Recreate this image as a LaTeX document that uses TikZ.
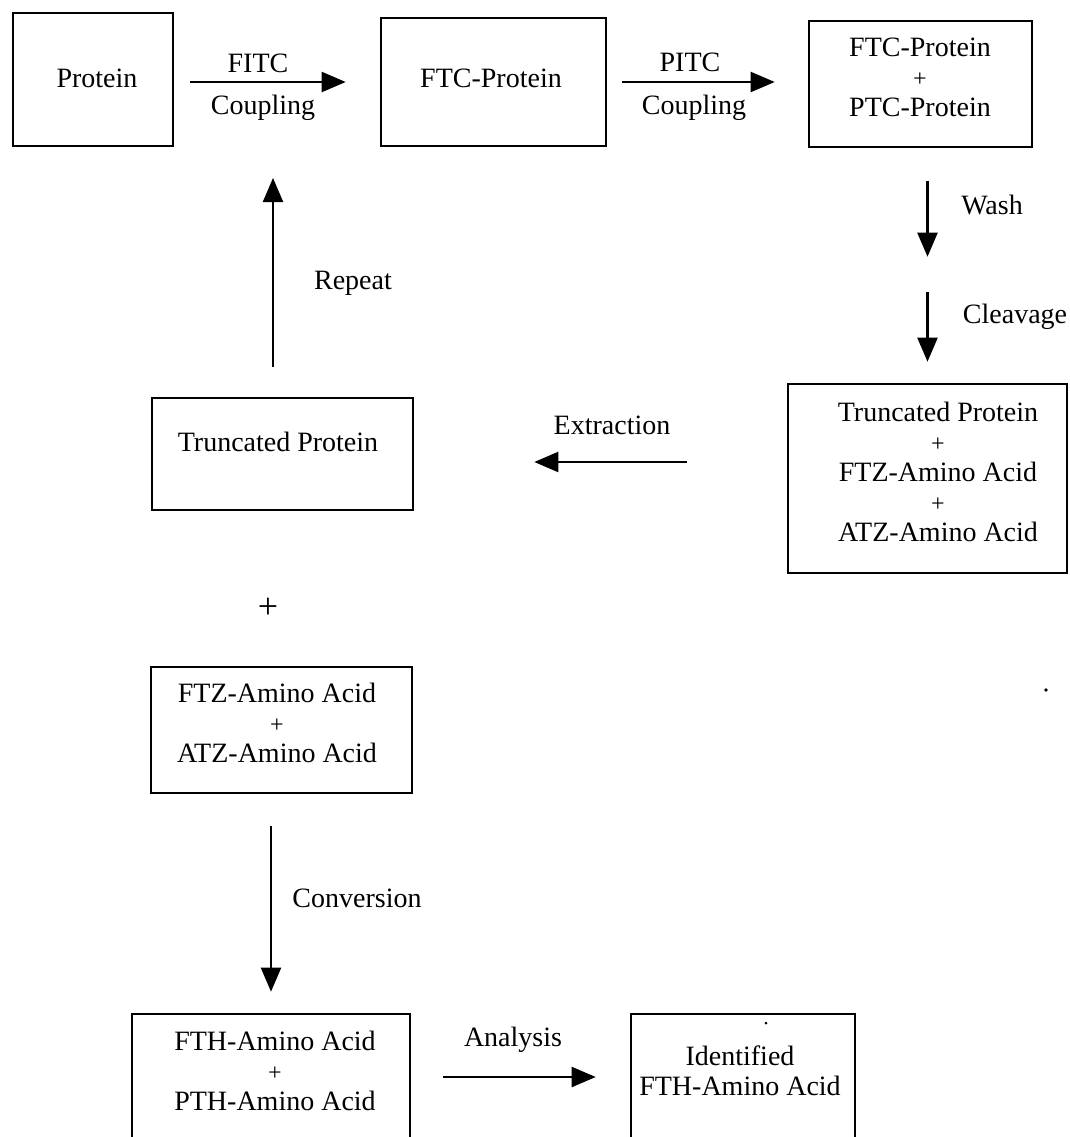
\documentclass[tikz,border=0pt]{standalone}
\usepackage{fontspec}
\setmainfont{Liberation Serif}
\usetikzlibrary{arrows.meta,fit}
\tikzset{
  stage/.style={draw, line width=2.6pt, inner sep=0pt, rectangle},
  txt/.style={font=\fontsize{28}{30}\selectfont, align=center, inner sep=0pt},
  flow/.style={line width=2.2pt, -{Triangle[length=24pt,width=20pt]}},
}
\newcommand{\smallplus}{{\fontsize{24}{30}\selectfont +}}
\begin{document}
\begin{tikzpicture}[x=1pt,y=-1pt]
\useasboundingbox (0,0) rectangle (1070,1137);
\clip (0,0) rectangle (1070,1137);

% stage boxes
\node[stage, fit={(13,13) (173,146)}] (protein) {};
\node[stage, fit={(381,18) (606,146)}] (ftc) {};
\node[stage, fit={(809,21) (1032,147)}] (ftcptc) {};
\node[stage, fit={(788,384) (1067,573)}] (mix) {};
\node[stage, fit={(152,398) (413,510)}] (trunc) {};
\node[stage, fit={(151,667) (412,793)}] (ftzatz) {};
\node[stage, fit={(132,1014) (410,1160)}] (fth) {};
\node[stage, fit={(631,1014) (855,1160)}] (ident) {};

% box contents
\node[txt] (proteinT) at (97,78) {Protein};
\node[txt] (ftcT) at (491,78) {FTC-Protein};
\node[txt] (ftcptcT) at (920,77) {FTC-Protein\\\smallplus\\PTC-Protein};
\node[txt] (mixT) at (938,472) {Truncated Protein\\\smallplus\\FTZ-Amino Acid\\\smallplus\\ATZ-Amino Acid};
\node[txt] (truncT) at (278,442) {Truncated Protein};
\node[txt] (ftzatzT) at (277,723) {FTZ-Amino Acid\\\smallplus\\ATZ-Amino Acid};
\node[txt] (fthT) at (275,1071) {FTH-Amino Acid\\\smallplus\\PTH-Amino Acid};
\node[txt] (identT) at (740,1071) {Identified\\FTH-Amino Acid};
\node[txt, font=\fontsize{36}{36}\selectfont] (plus) at (268,608) {+};

% reference points for free arrow ends and levels
\coordinate (repeatTip) at (273,178);
\coordinate (extrLevel) at (0,462);
\coordinate (anaLevel) at (0,1077);

% coupling steps
\draw[flow, shorten <=16pt, shorten >=34pt] (protein.east |- ftc.west) -- (ftc.west);
\draw[flow, shorten <=15pt, shorten >=33pt] (ftc.east) -- (ftc.east -| ftcptc.west);
\node[txt] (fitcL) at (258,63) {FITC};
\node[txt] (coup1L) at (263,108) {Coupling};
\node[txt] (pitcL) at (690,62) {PITC};
\node[txt] (coup2L) at (694,108) {Coupling};

% wash and cleavage
\draw[flow, shorten <=33pt, shorten >=126pt] (ftcptc.south -| mix.north) -- (mix.north);
\draw[flow, shorten <=144pt, shorten >=21pt] (ftcptc.south -| mix.north) -- (mix.north);
\node[txt] (washL) at (992,205) {Wash};
\node[txt] (cleavL) at (1015,317) {Cleavage};

% extraction
\draw[flow, shorten <=100pt, shorten >=120pt] (mix.west |- extrLevel) -- (trunc.east |- extrLevel);
\node[txt] (extrL) at (612,425) {Extraction};

% repeat cycle
\draw[flow, shorten <=30pt] (trunc.north -| repeatTip) -- (repeatTip);
\node[txt] (repeatL) at (353,283) {Repeat};

% conversion
\draw[flow, shorten <=32pt, shorten >=21pt] (ftzatz.south -| fth.north) -- (fth.north);
\node[txt] (convL) at (357,898) {Conversion};

% analysis
\draw[flow, shorten <=32pt, shorten >=34pt] (fth.east |- anaLevel) -- (ident.west |- anaLevel);
\node[txt] (anaL) at (513,1040) {Analysis};

% small specks
\fill (766,1023) circle (1.5pt);
\fill (1046,690) circle (1.8pt);
\end{tikzpicture}
\end{document}
